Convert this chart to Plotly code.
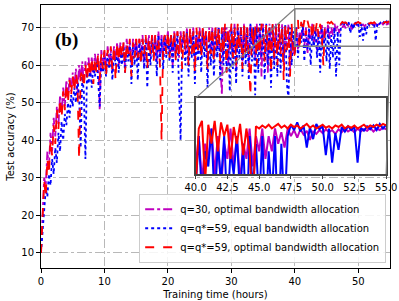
import plotly.graph_objects as go

# ---------------- data ----------------
# training time (hours), one row = 2.5 h
hours = [0, 0.25, 0.5, 0.75, 1, 1.25, 1.5, 1.75, 2, 2.25,
         2.5, 2.75, 3, 3.25, 3.5, 3.75, 4, 4.25, 4.5, 4.75,
         5, 5.25, 5.5, 5.75, 6, 6.25, 6.5, 6.75, 7, 7.25,
         7.5, 7.75, 8, 8.25, 8.5, 8.75, 9, 9.25, 9.5, 9.75,
         10, 10.25, 10.5, 10.75, 11, 11.25, 11.5, 11.75, 12, 12.25,
         12.5, 12.75, 13, 13.25, 13.5, 13.75, 14, 14.25, 14.5, 14.75,
         15, 15.25, 15.5, 15.75, 16, 16.25, 16.5, 16.75, 17, 17.25,
         17.5, 17.75, 18, 18.25, 18.5, 18.75, 19, 19.25, 19.5, 19.75,
         20, 20.25, 20.5, 20.75, 21, 21.25, 21.5, 21.75, 22, 22.25,
         22.5, 22.75, 23, 23.25, 23.5, 23.75, 24, 24.25, 24.5, 24.75,
         25, 25.25, 25.5, 25.75, 26, 26.25, 26.5, 26.75, 27, 27.25,
         27.5, 27.75, 28, 28.25, 28.5, 28.75, 29, 29.25, 29.5, 29.75,
         30, 30.25, 30.5, 30.75, 31, 31.25, 31.5, 31.75, 32, 32.25,
         32.5, 32.75, 33, 33.25, 33.5, 33.75, 34, 34.25, 34.5, 34.75,
         35, 35.25, 35.5, 35.75, 36, 36.25, 36.5, 36.75, 37, 37.25,
         37.5, 37.75, 38, 38.25, 38.5, 38.75, 39, 39.25, 39.5, 39.75,
         40, 40.25, 40.5, 40.75, 41, 41.25, 41.5, 41.75, 42, 42.25,
         42.5, 42.75, 43, 43.25, 43.5, 43.75, 44, 44.25, 44.5, 44.75,
         45, 45.25, 45.5, 45.75, 46, 46.25, 46.5, 46.75, 47, 47.25,
         47.5, 47.75, 48, 48.25, 48.5, 48.75, 49, 49.25, 49.5, 49.75,
         50, 50.25, 50.5, 50.75, 51, 51.25, 51.5, 51.75, 52, 52.25,
         52.5, 52.75, 53, 53.25, 53.5, 53.75, 54, 54.25, 54.5, 54.75,
         55]

acc_q30_opt = [10, 22, 30, 28, 37, 33, 42, 37, 46, 41,
               49, 44, 52, 47, 54, 49, 56, 51, 57, 53,
               58, 54, 59, 52, 60, 56, 61, 55, 61, 57,
               62, 57, 62, 58, 63, 59, 63, 48, 64, 60,
               64, 59, 65, 61, 64, 58, 65, 62, 66, 60,
               66, 62, 66, 59, 67, 63, 66, 60, 67, 64,
               67, 61, 67, 63, 68, 60, 67, 64, 68, 62,
               68, 64, 68, 61, 69, 63, 68, 62, 68, 65,
               69, 63, 68, 60, 69, 64, 69, 62, 69, 65,
               69, 63, 70, 62, 69, 66, 70, 61, 69, 64,
               70, 63, 70, 65, 69, 60, 70, 64, 70, 62,
               70, 64, 70, 61, 52, 70, 65, 70, 60, 70,
               70, 63, 71, 58, 70, 65, 70, 61, 71, 64,
               70, 60, 71, 66, 70, 62, 71, 64, 70, 57,
               71, 63, 70, 58, 71, 65, 70, 61, 71, 63,
               70, 64, 71, 60, 70, 65, 71, 59, 70, 63,
               66, 70, 64, 69, 67, 71, 65, 70, 63, 69,
               67, 71, 66, 70, 64, 69, 67, 71, 66, 70,
               68, 71, 67, 70, 68, 71, 69, 70.5, 68.5, 71,
               70, 70.8, 69.8, 70.9, 70.2, 70.7, 69.5, 70.6, 70.3, 70.8,
               70.4, 70.9, 70.5, 70.8, 70.3, 70.9, 70.5, 71.0, 70.6, 70.9,
               70.5, 71.0, 70.6, 70.9, 70.7, 71.1, 70.6, 71.0, 70.8, 71.1,
               70.9]

acc_q59_equal = [10, 16, 23, 27, 25, 31, 28, 35, 31, 38,
                 34, 42, 37, 45, 40, 47, 44, 50, 46, 52,
                 49, 54, 50, 56, 52, 38, 57, 53, 35, 58,
                 55, 59, 54, 60, 57, 61, 56, 49, 62, 58,
                 62, 57, 63, 59, 63, 56, 64, 60, 64, 58,
                 64, 60, 65, 58, 65, 61, 66, 55, 65, 60,
                 66, 56, 66, 61, 66, 59, 67, 54, 66, 60,
                 67, 62, 67, 57, 68, 61, 67, 59, 68, 62,
                 68, 61, 68, 58, 68, 62, 68, 56, 40, 67,
                 68, 60, 69, 57, 68, 62, 69, 55, 68, 61,
                 69, 58, 69, 62, 68, 54, 69, 60, 69, 57,
                 69, 62, 70, 56, 69, 60, 70, 58, 69, 53,
                 70, 59, 70, 55, 70, 62, 70, 57, 70, 60,
                 70, 56, 71, 61, 70, 52, 70, 58, 71, 62,
                 70, 56, 71, 60, 70, 54, 71, 59, 70, 57,
                 71, 58, 70, 61, 71, 55, 51, 70, 60, 69,
                 63, 70, 62, 68, 66, 71, 61, 69, 64, 70,
                 60, 68, 65, 70, 62, 69, 58, 70, 63, 69,
                 61, 70, 59, 68, 62, 70, 57, 69, 60, 70,
                 71.5, 70.8, 71.8, 70.6, 71.4, 68.5, 71.2, 69.6, 71.6, 70.9,
                 71.3, 67.5, 71.0, 66.5, 70.4, 68.2, 71.2, 70.6, 71.3, 70.8,
                 71.2, 66.5, 71.1, 70.7, 71.3, 70.9, 71.4, 70.8, 71.6, 71.0,
                 71.5]

acc_q59_opt = [10, 20, 29, 25, 35, 31, 40, 36, 44, 39,
               48, 43, 51, 46, 53, 48, 55, 50, 56, 52,
               57, 53, 58, 55, 35, 57, 59, 54, 60, 56,
               61, 57, 62, 55, 62, 58, 63, 56, 63, 59,
               64, 57, 64, 60, 65, 59, 65, 56, 66, 61,
               66, 62, 66, 58, 66, 63, 67, 57, 66, 62,
               67, 62, 67, 60, 67, 63, 68, 59, 67, 63,
               68, 61, 68, 64, 67, 60, 40, 66, 68, 63,
               69, 62, 68, 65, 69, 61, 69, 63, 68, 59,
               69, 64, 69, 60, 70, 63, 69, 58, 70, 64,
               69, 62, 70, 65, 69, 59, 70, 63, 70, 61,
               70, 65, 70, 61, 70, 63, 71, 58, 70, 64,
               71, 62, 70, 60, 71, 64, 70, 59, 71, 63,
               70, 62, 52, 70, 65, 71, 60, 70, 63, 71,
               70, 61, 71, 64, 70, 58, 71, 62, 70, 60,
               71, 63, 70, 56, 71, 64, 70, 57, 71, 62,
               63, 71, 72, 64, 71.5, 69, 72, 68, 71.8, 70,
               71.5, 67, 71.2, 69, 71.6, 67.5, 71, 68, 60, 71.3,
               71.0, 71.4, 71.1, 71.5, 71.0, 71.3, 71.6, 71.1, 71.4, 71.0,
               71.5, 71.2, 71.4, 71.0, 71.3, 71.6, 71.1, 71.4, 71.0, 71.3,
               71.5, 71.1, 71.3, 71.0, 71.4, 71.2, 71.5, 71.0, 71.3, 71.1,
               71.4, 71.0, 71.3, 71.5, 71.1, 71.4, 71.2, 71.5, 71.3, 71.6,
               71.4]

series_names = ["q=30, optimal bandwidth allocation",
                "q=q*=59, equal bandwidth allocation",
                "q=q*=59, optimal bandwidth allocation"]
x_ticks = [0, 10, 20, 30, 40, 50]
y_ticks = [10, 20, 30, 40, 50, 60, 70]
inset_ticks = [40, 42.5, 45, 47.5, 50, 52.5, 55]
inset_ticktext = ["40.0", "42.5", "45.0", "47.5", "50.0", "52.5", "55.0"]

# ---------------- figure ----------------
styles = [("#BF00BF", "dashdot"), ("#0000FF", "dot"), ("#FF0000", "dash")]
all_acc = [acc_q30_opt, acc_q59_equal, acc_q59_opt]

XR = [0, 55]
YR = [6, 76]
ZX = [40, 55]
ZY = [65, 75]

fig = go.Figure()
for name, acc, (col, dash) in zip(series_names, all_acc, styles):
    n = min(len(hours), len(acc))
    fig.add_trace(go.Scatter(x=hours[:n], y=acc[:n], mode="lines", name=name,
                             line=dict(color=col, dash=dash, width=1.8),
                             xaxis="x", yaxis="y"))
for name, acc, (col, dash) in zip(series_names, all_acc, styles):
    n = min(len(hours), len(acc))
    xs = [h for h in hours[:n] if h >= ZX[0]]
    ys = [a for h, a in zip(hours[:n], acc[:n]) if h >= ZX[0]]
    fig.add_trace(go.Scatter(x=xs, y=ys, mode="lines", showlegend=False,
                             line=dict(color=col, width=2),
                             xaxis="x2", yaxis="y2"))

ins_x = [0.443, 0.989]
ins_y = [0.357, 0.646]

def px(v):
    return (v - XR[0]) / (XR[1] - XR[0])

def py(v):
    return (v - YR[0]) / (YR[1] - YR[0])

shapes = [
    dict(type="rect", xref="x2", yref="y2", x0=ZX[0], x1=ZX[1], y0=ZY[0], y1=ZY[1],
         fillcolor="white", line=dict(width=0), layer="below"),
    dict(type="rect", xref="x", yref="y", x0=ZX[0], x1=ZX[1], y0=ZY[0], y1=ZY[1],
         line=dict(color="#808080", width=1.5), layer="above"),
    dict(type="line", xref="paper", yref="paper", x0=ins_x[0], y0=ins_y[1], x1=px(ZX[0]), y1=py(ZY[1]),
         line=dict(color="#808080", width=1.2)),
    dict(type="line", xref="paper", yref="paper", x0=ins_x[1], y0=ins_y[0], x1=px(ZX[1]), y1=py(ZY[0]),
         line=dict(color="#808080", width=1.2)),
]

axis_common = dict(showline=True, linecolor="black", linewidth=1, mirror=True, ticks="outside",
                   ticklen=4, tickcolor="black", zeroline=False, automargin=False,
                   tickfont=dict(size=10, color="black"))

fig.update_layout(
    width=399, height=301,
    margin=dict(l=41, r=9, t=5, b=33, autoexpand=False),
    paper_bgcolor="white", plot_bgcolor="white",
    font=dict(family="DejaVu Sans", size=10, color="black"),
    xaxis=dict(domain=[0, 1], range=XR, tickvals=x_ticks, showgrid=True, gridcolor="#b8b8b8",
               griddash="dashdot", gridwidth=1,
               title=dict(text="Training time (hours)", font=dict(size=10), standoff=4),
               **axis_common),
    yaxis=dict(domain=[0, 1], range=YR, tickvals=y_ticks, showgrid=True, gridcolor="#b8b8b8",
               griddash="dashdot", gridwidth=1,
               title=dict(text="Test accuracy (%)", font=dict(size=10), standoff=4),
               **axis_common),
    xaxis2=dict(domain=ins_x, anchor="y2", range=ZX, tickvals=inset_ticks, ticktext=inset_ticktext,
                showgrid=False, showline=True, linecolor="#444", linewidth=1.5, mirror=True,
                ticks="outside", ticklen=3, tickcolor="#444", zeroline=False, automargin=False,
                tickfont=dict(size=10, color="black")),
    yaxis2=dict(domain=ins_y, anchor="x2", range=ZY, showticklabels=False, ticks="",
                showgrid=False, showline=True, linecolor="#444", linewidth=1.5, mirror=True,
                zeroline=False, automargin=False),
    shapes=shapes,
    legend=dict(x=0.989, y=0.02, xanchor="right", yanchor="bottom",
                bgcolor="rgba(255,255,255,0.85)", bordercolor="#cccccc", borderwidth=1,
                font=dict(size=10), tracegroupgap=0, itemwidth=30),
    annotations=[dict(text="<b>(b)</b>", xref="paper", yref="paper", x=0.074, y=0.867,
                      xanchor="center", yanchor="middle", showarrow=False,
                      font=dict(family="Liberation Serif", size=19, color="black"))],
)

fig.write_html("out.html", config={"displayModeBar": False},
               post_script="document.body.style.margin='0';")
